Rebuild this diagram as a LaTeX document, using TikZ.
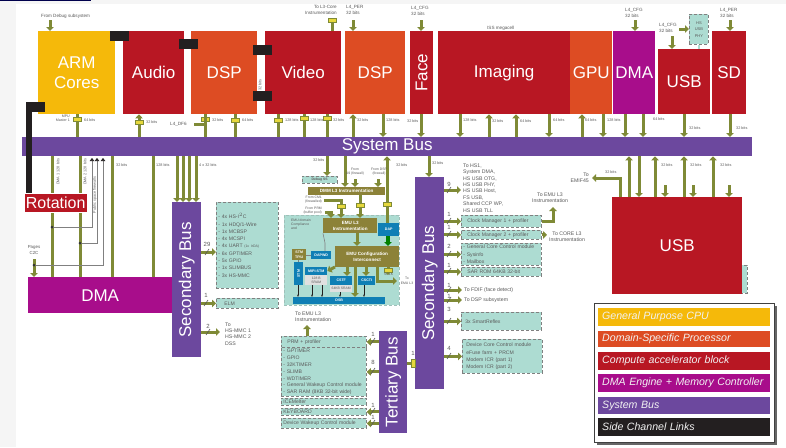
\documentclass[tikz,border=0pt]{standalone}
\usepackage{fontspec}
\setmainfont{Liberation Sans}
\usetikzlibrary{arrows.meta}
\definecolor{cpuc}{HTML}{F5B90A}
\definecolor{dspc}{HTML}{DD4C23}
\definecolor{hwac}{HTML}{B81723}
\definecolor{dmac}{HTML}{A80D8B}
\definecolor{busc}{HTML}{6C489E}
\definecolor{sidec}{HTML}{231F20}
\definecolor{linkc}{HTML}{7F8A36}
\definecolor{unitc}{HTML}{ADDCD2}
\definecolor{markc}{HTML}{E6D83C}
\definecolor{emuc}{HTML}{8C8238}
\definecolor{debugc}{HTML}{0F7FB5}
\definecolor{inkc}{HTML}{5A5A5A}
\tikzset{
block/.style 2 args={anchor=north west,inner sep=0pt,minimum width=#1,minimum height=#2,text=white,align=center,font=\fontsize{17}{20}\selectfont},
unit/.style 2 args={anchor=north west,inner xsep=2pt,inner ysep=0pt,minimum height=#2,text width={#1-4},fill=unitc,draw=gray,densely dashed,line width=.8pt,text=inkc,align=left,font=\fontsize{5.1}{7.3}\selectfont},
emu/.style 2 args={anchor=north west,inner sep=0pt,minimum width=#1,minimum height=#2,fill=emuc,text=white,align=center,font=\bfseries\fontsize{4.6}{6}\selectfont},
dbg/.style 2 args={anchor=north west,inner sep=0pt,minimum width=#1,minimum height=#2,fill=debugc,text=white,align=center,font=\bfseries\fontsize{3.6}{4.5}\selectfont},
link/.style={draw=linkc,line width=3pt,-{Triangle[length=4pt,width=7.5pt]}},
stub/.style={draw=linkc,line width=3pt},
wire/.style={draw=gray,line width=.6pt},
side/.style={fill=sidec,inner sep=0pt,minimum width=18.5,minimum height=9.5,anchor=north west},
bridge/.style={fill=markc,draw=linkc,line width=.5pt,inner sep=0pt,minimum width=8,minimum height=3.5},
note/.style={text=inkc,inner sep=0pt,align=left,anchor=west,font=\fontsize{5.2}{6.4}\selectfont},
bits/.style={text=inkc,inner sep=0pt,anchor=west,font=\fontsize{3.8}{4.5}\selectfont},
count/.style={text=inkc,inner sep=0pt,font=\fontsize{6}{7}\selectfont},
swatch/.style 2 args={anchor=north west,inner xsep=4pt,inner ysep=0pt,minimum height=#2,text width=164,fill=#1,text=white!90!gray,font=\itshape\fontsize{10.6}{12}\selectfont},
}
\begin{document}
\begin{tikzpicture}[x=1pt,y=-1pt]
\useasboundingbox (0,0) rectangle (786,447);
\fill[white] (0,0) rectangle (786,447);
\fill[black!4] (0,0) rectangle (16,447);
\fill[black!4] (0,0) rectangle (786,4);
\fill[blue!30!black] (0,0) rectangle (91,1);

\node[block={77}{83},fill=cpuc] (arm) at (38,31) {ARM\\Cores};
\node[block={61}{83},fill=hwac] (audio) at (123,31) {Audio};
\node[block={66}{83},fill=dspc] (dspa) at (191,31) {DSP};
\node[block={76}{83},fill=hwac] (video) at (265,31) {Video};
\node[block={60}{83},fill=dspc] (dspb) at (345,31) {DSP};
\node[block={23}{83},fill=hwac] (face) at (410,31) {};
\node[rotate=90,text=white,inner sep=0pt,font=\fontsize{17}{20}\selectfont] (facetxt) at (face) {Face};
\node[block={132}{83},fill=hwac] (imaging) at (438,31) {Imaging};
\node[block={42}{83},fill=dspc] (gpu) at (570,31) {GPU};
\node[block={42}{83},fill=dmac] (dmaa) at (613,31) {DMA};
\node[block={52}{65},fill=hwac] (usba) at (658,49) {USB};
\node[block={34}{83},fill=hwac] (sd) at (712,31) {SD};
\node[unit={19}{30},align=center,text width=15,inner xsep=2pt,font=\fontsize{4}{6.5}\selectfont] (phy) at (689,14) {HS\\USB\\PHY};
\node[block={730}{19},fill=busc] (sysbus) at (22,137) {System Bus};
\fill[unitc,draw=gray,densely dashed] (738,265) rectangle (747,293);
\node[block={130}{97},fill=hwac] (usbb) at (612,197) {USB};
\node[block={144}{36},fill=dmac] (dmab) at (28,277) {DMA};
\node[block={29}{155},fill=busc] (secl) at (172,202) {};
\node[rotate=90,text=white,inner sep=0pt,font=\fontsize{17}{20}\selectfont] (secltxt) at (secl) {Secondary Bus};
\node[block={29}{212},fill=busc] (secr) at (415,177) {};
\node[rotate=90,text=white,inner sep=0pt,font=\fontsize{17}{20}\selectfont] (secrtxt) at (secr) {Secondary Bus};
\node[block={28}{102},fill=busc] (tert) at (379,331) {};
\node[rotate=90,text=white,inner sep=0pt,font=\fontsize{17}{20}\selectfont] (terttxt) at (tert) {Tertiary Bus};

\foreach \x/\b in {139/audio,353/dspb,489/imaging,516/imaging,582/gpu}
  \draw[link] (\x,0 |- sysbus.north) -- (\x,0 |- \b.south);
\foreach \x/\b in {383/dspb,421/face,460/imaging,549/imaging,603/dmaa,625/dmaa,643/dmaa,684/usba,730/sd}
  \draw[link] (\x,0 |- \b.south) -- (\x,0 |- sysbus.north);
\foreach \x/\b in {77/arm,205/dspa,235/dspa,278/video,304/video,327/video}
  \draw[stub] (\x,0 |- \b.south) -- (\x,0 |- sysbus.north);
\foreach \x/\y in {77/119,139/122,205/119,235/120,278/120,304/118,327/118} \node[bridge] (br\x) at (\x,\y) {};

\foreach \x/\b in {50/arm,353/dspb,421/face,635/dmaa,730/sd}
  \draw[link] (\x,19 |- \b.north) ++(0,-11) -- (\x,0 |- \b.north);
\draw[link] (672,36) -- (672,0 |- usba.north);
\draw[link] (679,29) -- (phy.west |- 0,29);
\draw[wire,unitc,line width=1.5pt] (phy.south) -- (phy.south |- usba.north);
\coordinate (vout) at (332,18);
\draw[stub] (vout |- video.north) -- (vout);
\node[bridge] (brv) at (332,20) {};
\coordinate (dfin) at (194,124);
\draw[stub] (dfin) -- (205,124) -- (205,115);

\foreach \x in {52,80,112,153} \draw[stub] (\x,0 |- sysbus.south) -- (\x,0 |- dmab.north);
\foreach \x in {177,183,189,196} \draw[link] (\x,0 |- sysbus.south) -- (\x,0 |- secl.north);
\coordinate (c2c) at (34,259);
\draw[link] (c2c) -- (c2c |- dmab.north);
\foreach \x/\y/\e in {92/227/52,97/243/80,103/265/34} {
  \draw[wire,{Triangle[length=3pt,width=4.5pt,color=sidec]}-] (\x,158) -- (\x,\y) -- (\e,\y);
  \fill[black!80] (\e,\y) circle (1.5);
}

\node[unit={62}{86}] (perlist) at (216,202) {- 4x HS-I$^2$C\\- 1x HDQ/1-Wire\\- 1x MCBSP\\- 4x MCSPI\\- 4x UART {\fontsize{3.5}{4}\selectfont(1x IrDA)}\\- 6x GPTIMER\\- 5x GPIO\\- 1x SLIMBUS\\- 3x HS-MMC};
\node[unit={62}{10}] (elm) at (216,298) {\hspace*{6pt}ELM};
\coordinate (perin) at (216,252);
\coordinate (mmcout) at (220,332);
\draw[link] (secl.east |- perin) -- (perin);
\draw[link] (secl.east |- elm) -- (elm.west);
\draw[link] (secl.east |- mmcout) -- (mmcout);
\node[note] (mmc) at (225,334) {To\\HS-MMC 1\\HS-MMC 2\\DSS};

\node[draw=unitc!70!gray,densely dashed,fill=unitc,inner sep=0pt,minimum width=115,minimum height=90,anchor=north west] (emuarea) at (284,215) {};
\node[emu={77}{8}] (dmml) at (308,187) {DMM L3 Instrumentation};
\node[emu={54}{15}] (emull) at (323,218) {EMU L3\\Instrumentation};
\node[emu={64}{21}] (emucfg) at (335,246) {EMU Configuration\\Interconnect};
\node[dbg={21}{13}] (dap) at (378,223) {DAP};
\node[dbg={20}{8}] (dpm) at (311,251) {DAPWD};
\node[dbg={14}{11},fill=emuc] (tpiu) at (292,249) {STM\\TPIU};
\node[dbg={9}{23}] (sta) at (294,262) {\rotatebox{90}{STM}};
\node[dbg={22}{8}] (mipi) at (305,267) {MIPI-STM};
\node[dbg={22}{9}] (cstf) at (330,276) {CSTF};
\node[dbg={17}{9}] (ctm) at (358,276) {CSCTI};
\node[dbg={92}{7}] (dsb) at (293,297) {DSB};
\node[fill=black!12,inner sep=0pt,minimum width=22,minimum height=10,anchor=north west,font=\fontsize{3.4}{4}\selectfont,align=center,text=inkc] (sram) at (305,275) {128 B\\SRAM};
\node[fill=black!12,inner sep=0pt,minimum width=22,minimum height=7,anchor=north west,font=\fontsize{3.4}{4}\selectfont,text=inkc] (etb) at (330,285) {64KB SRAM};
\node[draw=gray,densely dashed,fill=unitc,inner sep=0pt,minimum width=35,minimum height=7,anchor=north west,font=\bfseries\fontsize{3.4}{4}\selectfont,text=inkc] (emif) at (302,176) {Debug SS};

\draw[link] (327,0 |- sysbus.south) -- (327,0 |- emif.north);
\draw[link] (345,0 |- sysbus.south) -- (345,0 |- dmml.north);
\draw[link] (387,0 |- dap.north) -- (387,0 |- sysbus.south);
\node[bridge] (brd) at (387,204) {};
\draw[link] (360,0 |- dmml.south) -- (360,0 |- emull.north);
\node[bridge] (brm) at (360,205) {};
\coordinate (cmin) at (324,200);
\coordinate (prmin) at (325,212);
\draw[link] (cmin) -- (341,200) -- (341,0 |- emull.north);
\node[bridge] (brc) at (341,206) {};
\draw[link] (prmin) -- (331,212) -- (331,0 |- emull.north);
\draw[link] (355,179) -- (355,0 |- dmml.north);
\draw[link] (378,179) -- (378,0 |- dmml.north);
\draw[link,green!50!black,line width=4pt] (388,0 |- dap.south) -- (388,0 |- emucfg.north);
\draw[link] (357,0 |- emull.south) -- (357,0 |- emucfg.north);
\draw[link] (347,0 |- emucfg.south) -- (347,0 |- cstf.north);
\draw[link] (366,0 |- emucfg.south) -- (366,0 |- ctm.north);
\draw[link] (355,0 |- emucfg.south) -- (355,0 |- dsb.north);
\draw[link] (emucfg.west |- 0,267) -- (mipi.east |- 0,271);
\coordinate (cfgout) at (397,281);
\draw[link] (377,0 |- emucfg.south) -- (377,281) -- (cfgout);
\draw[link] (388,0 |- emucfg.south) -- (388,275);
\node[bridge] (brs) at (388,270) {};
\foreach \x/\b in {298/sta,312/sram,322/sram,340/etb,364/ctm}
  \draw[sidec,line width=.6pt,-{Stealth[length=2.5pt]}] (\x,0 |- \b.south) -- (\x,0 |- dsb.north);
\draw[wire] (sta.north) -- (sta.north |- tpiu.south);
\draw[wire] (dpm.west) -- (tpiu.east |- dpm);
\draw[wire] (321,0 |- emull.south) ++(2,0) -- (325,243) -- (325,0 |- dpm.north);

\node[unit={80}{12}] (clka) at (461,215) {\hspace*{4pt}Clock Manager 1 + profiler};
\node[unit={80}{9}] (clkb) at (461,230) {\hspace*{4pt}Clock Manager 2 + profiler};
\node[unit={80}{22}] (gcore) at (461,243) {- General Core Control module\\- Sysinfo\\- Mailbox};
\node[unit={80}{9}] (sar) at (461,267) {\hspace*{4pt}SAR ROM 64KB 32-bit};
\node[unit={80}{18}] (smart) at (461,312) {\hspace*{2pt}3x SmartReflex};
\node[unit={80}{34}] (dcore) at (462,339) {\hspace*{2pt}Device Core Control module\\\hspace*{2pt}eFuse farm + PRCM\\\hspace*{2pt}Modem ICR (part 1)\\\hspace*{2pt}Modem ICR (part 2)};
\coordinate (tohs) at (461,190);
\coordinate (tofd) at (462,290);
\coordinate (todsp) at (462,300);
\foreach \b in {clka,clkb,gcore,sar,smart,dcore} \draw[link] (secr.east |- \b) -- (\b.west);
\foreach \b in {tohs,tofd,todsp} \draw[link] (secr.east |- \b) -- (\b);
\draw[link] (429,0 |- sysbus.south) -- (429,0 |- secr.north);
\draw[link] (clka.east) -- (553,0 |- clka) -- (553,207);
\draw[link] (clkb.east) -- (547,0 |- clkb);
\node[note] (hslist) at (463,188) {To HS1,\\System DMA,\\HS USB OTG,\\HS USB PHY,\\HS USB Host,\\FS USB,\\Shared CCP WP,\\HS USB TLL};
\node[note,align=center,anchor=center] (emua) at (550,198) {To EMU L3\\Instrumentation};
\node[note,align=center,anchor=center] (corea) at (567,237) {To CORE L3\\Instrumentation};
\node[note] (fdif) at (464,290) {To FDIF (face detect)};
\node[note] (dsps) at (464,300) {To DSP subsystem};

\node[unit={85}{11}] (prm) at (281,336) {\hspace*{4pt}PRM + profiler};
\node[unit={85}{49},font=\fontsize{5.1}{6.9}\selectfont] (terlist) at (281,347) {- GPTIMER\\- GPIO\\- 32KTIMER\\- SLIMB\\- WDTIMER\\- General Wakeup Control module\\- SAR RAM (8KB 32-bit wide)};
\node[unit={85}{7}] (ice) at (281,398) {ICEMelter};
\node[unit={85}{7}] (kbd) at (281,408) {KEYBOARD};
\node[unit={85}{10}] (wake) at (281,418) {Device Wakeup Control module};
\foreach \b in {prm,terlist,kbd,wake} \draw[link] (tert.west |- \b) -- (\b.east);
\coordinate (secin) at (415,363);
\draw[stub] (secin) -- (tert.east |- secin);
\node[bridge,minimum width=3.5,minimum height=8] (brt) at (413,363) {};
\coordinate (emub) at (307,325);
\draw[link] (prm.north -| emub) -- (emub);
\node[note,anchor=west] (emuc) at (295,317) {To EMU L3\\Instrumentation};

\coordinate (emifl) at (592,178);
\draw[link] (620,0 |- usbb.north) -- (620,178) -- (emifl);
\foreach \x in {655,684,713} \draw[link] (\x,0 |- usbb.north) -- (\x,0 |- sysbus.south);
\draw[link] (629,0 |- usbb.north) -- (629,0 |- sysbus.south);
\draw[link] (639,0 |- sysbus.south) -- (639,0 |- usbb.north);
\foreach \x in {665,693,729} \draw[link] (\x,185) -- (\x,0 |- usbb.north);
\node[note,anchor=east,align=right] (emifa) at (589,178) {To\\EMIF45};

\node[side] (sa) at (110,31) {};
\node[side] (sb) at (179,39) {};
\node[side] (sc) at (253,45) {};
\node[side] (sd2) at (253,91) {};
\node[side] (se) at (26,102) {};
\node[block={63}{19},fill=hwac,draw=white,line width=.4pt,font=\fontsize{16}{18}\selectfont] (rot) at (24,193) {Rotation};
\draw[sidec,line width=6pt] (se.south west) ++(3,0) -- (rot.north -| 29,0);

\foreach \x/\y/\t in {84/120/64 bits,146/122/32 bits,212/120/32 bits,242/120/64 bits,285/120/128 bits,310/120/128 bits,333/120/32 bits,357/120/32 bits,386/120/128 bits,407/121/32 bits,463/120/128 bits,492/121/32 bits,520/121/64 bits,553/120/64 bits,585/120/64 bits,607/120/128 bits,653/119/64 bits,689/128/32 bits,736/128/32 bits,116/165/32 bits,156/165/128 bits,199/165/4 x 32 bits,313/160/32 bits,396/165/32 bits,432/163/32 bits,605/172/32 bits,661/165/32 bits,690/165/32 bits,720/165/32 bits}
  \node[bits] (bit\x) at (\x,\y) {\t};
\node[note,font=\fontsize{4.6}{5.6}\selectfont] (dbgt) at (41,16) {From Debug subsystem};
\node[note,font=\fontsize{4.6}{5.6}\selectfont,align=right,anchor=east] (vidt) at (337,10) {To L3-Core\\Instrumentation};
\node[note,font=\fontsize{4.6}{5.6}\selectfont] (pert) at (346,10) {L4\_PER\\32 bits};
\node[note,font=\fontsize{4.6}{5.6}\selectfont] (cfgt) at (411,11) {L4\_CFG\\32 bits};
\node[note,font=\fontsize{4.6}{5.6}\selectfont] (isst) at (487,28) {ISS megacell};
\node[note,font=\fontsize{4.6}{5.6}\selectfont] (cfgd) at (625,13) {L4\_CFG\\32 bits};
\node[note,font=\fontsize{4.6}{5.6}\selectfont] (cfgu) at (659,28) {L4\_CFG\\32 bits};
\node[note,font=\fontsize{4.6}{5.6}\selectfont] (pers) at (720,13) {L4\_PER\\32 bits};
\node[note,font=\fontsize{4.6}{5.6}\selectfont] (dfl) at (170,124) {L4\_DF6};
\node[note,font=\fontsize{3.6}{4.4}\selectfont,align=right,anchor=east] (mpum) at (70,118) {MPU\\Master 1};
\node[note,font=\fontsize{4.4}{5.6}\selectfont,align=center,anchor=center] (c2ct) at (34,250) {Pages\\C2C};
\node[note,font=\fontsize{3.4}{4.2}\selectfont,align=center,anchor=center] (fromda) at (355,172) {From\\A9 (firewall)};
\node[note,font=\fontsize{3.4}{4.2}\selectfont,align=center,anchor=center] (fromdb) at (379,172) {From DSP\\(firewall)};
\node[note,font=\fontsize{3.4}{4.2}\selectfont,align=right,anchor=east] (fromc) at (322,200) {From CM1\\(firewalled)};
\node[note,font=\fontsize{3.4}{4.2}\selectfont,align=right,anchor=east] (fromp) at (322,211) {From PRM\\(buffer pool)};
\node[note,font=\fontsize{3.4}{4.2}\selectfont] (emudom) at (291,224) {EMU domain\\Compliance\\and};
\node[note,font=\fontsize{3.4}{4.4}\selectfont,align=center,anchor=center] (outt) at (407,281) {To\\EMU L3};
\node[note,font=\fontsize{3.4}{4.4}\selectfont] (sclk) at (384,274) {SCLK};
\node[rotate=90,bits,anchor=center] (dmaone) at (58,172) {DMA 1 128 bits};
\node[rotate=90,bits,anchor=center] (dmatwo) at (85,172) {DMA 2 128 bits};
\node[rotate=90,bits,anchor=center] (fwl) at (95,195) {Public space firewalls};
\node[rotate=90,bits,anchor=center] (secbus) at (260,85) {32 bits};

\foreach \x/\y/\t in {207/244/29,206/295/1,208/326/2,449/184/9,449/214/1,449/227/1,449/246/2,449/265/1,449/285/1,449/296/1,449/309/3,449/348/4,373/334/1,373/362/8,373/405/1,373/417/1,413/353/1}
  \node[count] (num\x\y) at (\x,\y) {\t};
\foreach \x/\y in {207/252,206/303,208/332,449/190,449/221,449/234,449/254,449/271,449/290,449/300,449/321,449/356,373/341,373/371,373/411,373/423}
  \draw[wire,inkc] (\x-2,\y+3) -- (\x+2,\y-3);

\fill[black!60] (597,306) rectangle (777,445);
\node[draw=black!75,line width=1pt,fill=white,inner sep=0pt,minimum width=180,minimum height=139,anchor=north west] (legend) at (594,303) {};
\node[swatch={cpuc}{18}] (lga) at (598,308) {General Purpose CPU};
\node[swatch={dspc}{16}] (lgb) at (598,331) {Domain-Specific Processor};
\node[swatch={hwac}{18}] (lgc) at (598,352) {Compute accelerator block};
\node[swatch={dmac}{18}] (lgd) at (598,374) {DMA Engine + Memory Controller};
\node[swatch={busc}{17}] (lge) at (598,397) {System Bus};
\node[swatch={sidec}{18}] (lgf) at (598,418) {Side Channel Links};
\end{tikzpicture}
\end{document}
